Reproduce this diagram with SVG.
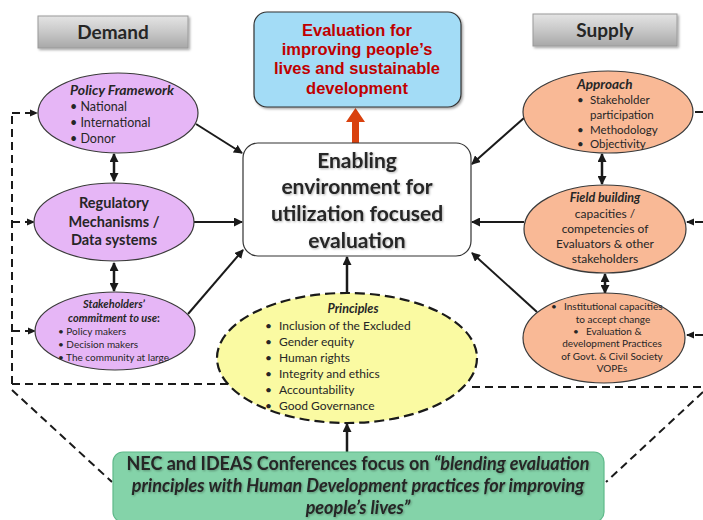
<svg xmlns="http://www.w3.org/2000/svg" width="703" height="520" viewBox="0 0 703 520">
<defs>
  <linearGradient id="gray" x1="0" y1="0" x2="0" y2="1">
    <stop offset="0" stop-color="#e4e4e4"/>
    <stop offset="0.5" stop-color="#c8c8c8"/>
    <stop offset="1" stop-color="#a8a8a8"/>
  </linearGradient>
  <marker id="ah" markerWidth="9" markerHeight="9" refX="8" refY="4.5" orient="auto-start-reverse" markerUnits="userSpaceOnUse">
    <path d="M0,0 L9,4.5 L0,9 Z" fill="#1a1a1a"/>
  </marker>
  <marker id="ahs" markerWidth="8" markerHeight="8" refX="7" refY="4" orient="auto-start-reverse" markerUnits="userSpaceOnUse">
    <path d="M0,0.5 L8,4 L0,7.5 Z" fill="#1a1a1a"/>
  </marker>
  <filter id="sh" x="-10%" y="-10%" width="130%" height="130%">
    <feDropShadow dx="1.5" dy="1.5" stdDeviation="1" flood-color="#000" flood-opacity="0.35"/>
  </filter>
  <filter id="tsh" x="-5%" y="-20%" width="110%" height="140%">
    <feDropShadow dx="1" dy="1" stdDeviation="0.8" flood-color="#000" flood-opacity="0.3"/>
  </filter>
</defs>
<style>
  .t { font-family: Lato, "Open Sans", sans-serif; fill: #262626; }
  .b { font-weight: bold; }
  .bi { font-weight: bold; font-style: italic; }
  .c { text-anchor: middle; }
  .conn { stroke: #1a1a1a; stroke-width: 2; fill: none; }
  .dbl { stroke: #1a1a1a; stroke-width: 2.5; fill: none; }
  .dash { stroke: #1a1a1a; stroke-width: 2; fill: none; stroke-dasharray: 8 5; }
  .purple { fill: #e6b6f6; stroke: #3a3a3a; stroke-width: 1.2; }
  .orange { fill: #f9b996; stroke: #3a3a3a; stroke-width: 1.2; }
  .hdr { fill: url(#gray); stroke: #9a9a9a; stroke-width: 1; }
</style>
<rect width="703" height="520" fill="#ffffff"/>

<g id="connectors">
  <path class="dash" d="M12,384 V113"/>
  <line class="dash" x1="12" y1="113" x2="37" y2="113" marker-end="url(#ahs)"/>
  <line class="dash" x1="12" y1="222" x2="34" y2="222" marker-end="url(#ahs)"/>
  <line class="dash" x1="12" y1="331" x2="35" y2="331" marker-end="url(#ahs)"/>
  <line class="dash" x1="12" y1="384" x2="228" y2="384"/>
  <line class="dash" x1="12" y1="390" x2="112" y2="482"/>
  <line class="dash" x1="703" y1="112" x2="684" y2="112" marker-end="url(#ahs)"/>
  <line class="dash" x1="703" y1="222" x2="687" y2="222" marker-end="url(#ahs)"/>
  <line class="dash" x1="703" y1="335" x2="687" y2="335" marker-end="url(#ahs)"/>
  <line class="dash" x1="472" y1="387" x2="703" y2="387"/>
  <line class="dash" x1="703" y1="392" x2="606" y2="482"/>
  <line class="conn" x1="196" y1="124" x2="242" y2="153" marker-end="url(#ah)"/>
  <line class="conn" x1="194" y1="222" x2="242" y2="222" marker-end="url(#ah)"/>
  <line class="conn" x1="188" y1="314" x2="243" y2="250" marker-end="url(#ah)"/>
  <line class="conn" x1="524" y1="118" x2="472" y2="164" marker-end="url(#ah)"/>
  <line class="conn" x1="524" y1="222" x2="472" y2="222" marker-end="url(#ah)"/>
  <line class="conn" x1="537" y1="312" x2="472" y2="253" marker-end="url(#ah)"/>
  <line class="dbl" x1="347" y1="293" x2="347" y2="257" marker-end="url(#ah)"/>
  <line class="dbl" x1="347" y1="452" x2="347" y2="424" marker-end="url(#ah)"/>
  <line class="dbl" x1="114" y1="154" x2="114" y2="181" marker-start="url(#ah)" marker-end="url(#ah)"/>
  <line class="dbl" x1="114" y1="263" x2="114" y2="291" marker-start="url(#ah)" marker-end="url(#ah)"/>
  <line class="dbl" x1="602" y1="154" x2="602" y2="184" marker-start="url(#ah)" marker-end="url(#ah)"/>
  <line class="dbl" x1="605" y1="274" x2="605" y2="293" marker-start="url(#ah)" marker-end="url(#ah)"/>
  <path d="M352,143 V122 H346 L355.5,108 L365,122 H359 V143 Z" fill="#d9410e"/>
</g>

<g id="demand">
  <rect class="hdr" x="38" y="16" width="150" height="32" filter="url(#sh)"/>
  <text class="t b c" x="113" y="39" font-size="19">Demand</text>
</g>
<g id="supply">
  <rect class="hdr" x="533" y="14" width="144" height="32" filter="url(#sh)"/>
  <text class="t b c" x="605" y="37" font-size="19">Supply</text>
</g>

<g id="goal">
  <rect x="254" y="12" width="207" height="95" rx="13" fill="#a3dcf6" stroke="#333" stroke-width="1.2" filter="url(#sh)"/>
  <g font-family="'Liberation Sans', Arial, sans-serif" font-weight="bold" font-size="16.5" fill="#c00000" text-anchor="middle">
    <text x="357" y="36">Evaluation for</text>
    <text x="357" y="55">improving people’s</text>
    <text x="357" y="74">lives and sustainable</text>
    <text x="357" y="94">development</text>
  </g>
</g>

<g id="center">
  <rect x="243" y="143" width="228" height="113" rx="15" fill="#ffffff" stroke="#333" stroke-width="1.2"/>
  <g class="t b c" font-size="21" filter="url(#tsh)">
    <text x="357" y="168">Enabling</text>
    <text x="357" y="194">environment for</text>
    <text x="357" y="221">utilization focused</text>
    <text x="357" y="248">evaluation</text>
  </g>
</g>

<g id="policy-framework">
  <ellipse class="purple" cx="118" cy="113" rx="80" ry="40"/>
  <text class="t bi" x="70" y="95" font-size="14">Policy Framework</text>
  <g class="t" font-size="12.5">
    <text x="70" y="111">• National</text>
    <text x="70" y="127">• International</text>
    <text x="70" y="143">• Donor</text>
  </g>
</g>

<g id="regulatory">
  <ellipse class="purple" cx="114" cy="222" rx="80" ry="39"/>
  <g class="t b c" font-size="14.5">
    <text x="114" y="208">Regulatory</text>
    <text x="114" y="227">Mechanisms /</text>
    <text x="114" y="245">Data systems</text>
  </g>
</g>

<g id="stakeholders">
  <ellipse class="purple" cx="115" cy="331" rx="80" ry="39"/>
  <g class="t bi c" font-size="11">
    <text x="114" y="308">Stakeholders’</text>
    <text x="114" y="322">commitment to use<tspan font-style="normal">:</tspan></text>
  </g>
  <g class="t" font-size="10">
    <text x="58" y="335">•  Policy makers</text>
    <text x="58" y="348">•  Decision makers</text>
    <text x="58" y="361">•  The community at large</text>
  </g>
</g>

<g id="approach">
  <ellipse class="orange" cx="608" cy="112" rx="85" ry="41"/>
  <text class="t bi" x="577" y="89" font-size="13.5">Approach</text>
  <g class="t" font-size="11.5">
    <text x="577" y="104">•</text><text x="590" y="104">Stakeholder</text>
    <text x="590" y="119">participation</text>
    <text x="577" y="134">•</text><text x="590" y="134">Methodology</text>
    <text x="577" y="148">•</text><text x="590" y="148">Objectivity</text>
  </g>
</g>

<g id="field-building">
  <ellipse class="orange" cx="605" cy="229" rx="81" ry="44"/>
  <text class="t bi c" x="605" y="202" font-size="12.5">Field building</text>
  <g class="t c" font-size="12">
    <text x="605" y="218">capacities /</text>
    <text x="605" y="233">competencies of</text>
    <text x="605" y="248">Evaluators &amp; other</text>
    <text x="605" y="263">stakeholders</text>
  </g>
</g>

<g id="institutional">
  <ellipse class="orange" cx="604" cy="338" rx="81" ry="45"/>
  <g class="t" font-size="10">
    <text x="551" y="310">•</text><text x="564" y="310">Institutional  capacities</text>
    <text x="613" y="323" text-anchor="middle">to accept change</text>
    <text x="573" y="335">•</text><text x="586" y="335">Evaluation &amp;</text>
    <text x="612" y="347" text-anchor="middle">development Practices</text>
    <text x="612" y="360" text-anchor="middle">of Govt. &amp; Civil Society</text>
    <text x="612" y="372" text-anchor="middle">VOPEs</text>
  </g>
</g>

<g id="principles">
  <ellipse cx="347" cy="358" rx="130" ry="65" fill="#fafaa2" stroke="#1a1a1a" stroke-width="2.2" stroke-dasharray="10 5"/>
  <text class="t bi c" x="353" y="313" font-size="12.5">Principles</text>
  <g class="t" font-size="12">
    <text x="265" y="330">•</text><text x="279" y="330">Inclusion of the Excluded</text>
    <text x="265" y="346">•</text><text x="279" y="346">Gender equity</text>
    <text x="265" y="362">•</text><text x="279" y="362">Human rights</text>
    <text x="265" y="378">•</text><text x="279" y="378">Integrity and ethics</text>
    <text x="265" y="394">•</text><text x="279" y="394">Accountability</text>
    <text x="265" y="410">•</text><text x="279" y="410">Good Governance</text>
  </g>
</g>

<g id="conferences">
  <rect x="113" y="452" width="491" height="70" rx="10" fill="#84d3a9" stroke="#5fb98a" stroke-width="1.2"/>
  <g class="t c" font-size="18" filter="url(#tsh)">
    <text x="358" y="470"><tspan class="b">NEC and IDEAS Conferences focus on </tspan><tspan class="bi">“blending evaluation</tspan></text>
    <text class="bi" x="358" y="492">principles with Human Development practices for improving</text>
    <text class="bi" x="358" y="514">people’s lives”</text>
  </g>
</g>
</svg>
